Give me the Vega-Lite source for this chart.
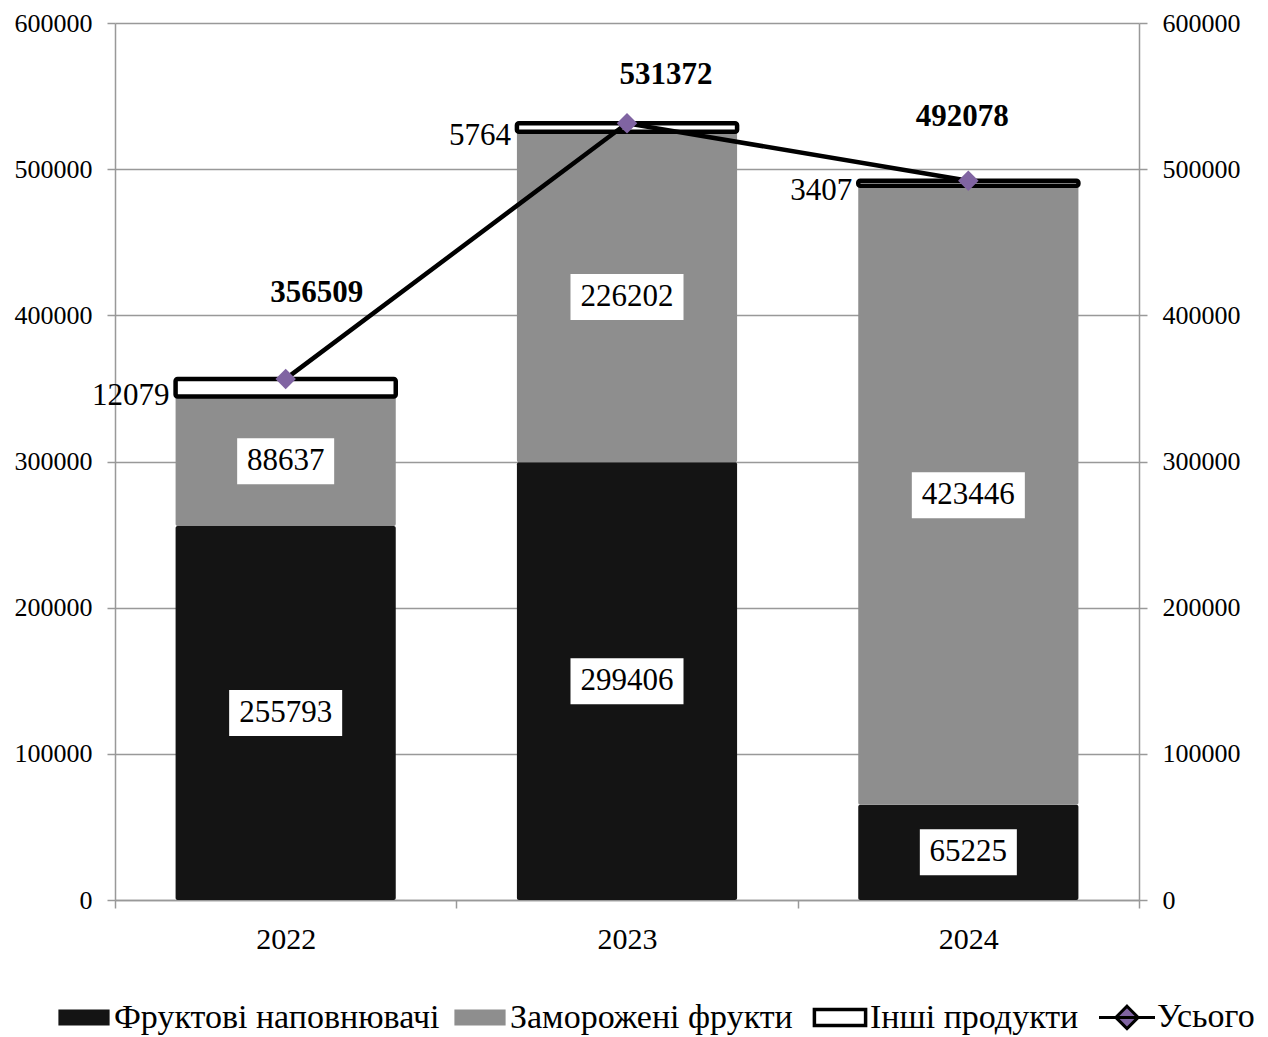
{
  "$schema": "https://vega.github.io/schema/vega-lite/v6.json",
  "width": 1024,
  "height": 877,
  "autosize": "none",
  "padding": {"left": 115, "top": 23, "right": 129, "bottom": 137},
  "background": "white",
  "config": {
    "view": {"stroke": null},
    "axis": {"labelFont": "Liberation Serif", "labelColor": "black", "domainColor": "#999999", "tickColor": "#999999", "gridColor": "#999999", "title": null, "domainWidth": 1.5, "tickWidth": 1.5, "gridWidth": 1.5},
    "legend": {"labelFont": "Liberation Serif", "labelColor": "black", "labelFontSize": 34, "labelLimit": 0, "title": null}
  },
  "datasets": {
    "cats": [
      {"year": "2022", "category": "Фруктові наповнювачі", "value": 255793, "order": 1},
      {"year": "2022", "category": "Заморожені фрукти", "value": 88637, "order": 2},
      {"year": "2022", "category": "Інші продукти", "value": 12079, "order": 3},
      {"year": "2023", "category": "Фруктові наповнювачі", "value": 299406, "order": 1},
      {"year": "2023", "category": "Заморожені фрукти", "value": 226202, "order": 2},
      {"year": "2023", "category": "Інші продукти", "value": 5764, "order": 3},
      {"year": "2024", "category": "Фруктові наповнювачі", "value": 65225, "order": 1},
      {"year": "2024", "category": "Заморожені фрукти", "value": 423446, "order": 2},
      {"year": "2024", "category": "Інші продукти", "value": 3407, "order": 3}
    ],
    "totals": [
      {"year": "2022", "total": 356509},
      {"year": "2023", "total": 531372},
      {"year": "2024", "total": 492078}
    ]
  },
  "layer": [
    {
      "data": {"name": "cats"},
      "transform": [
        {"stack": "value", "groupby": ["year"], "sort": [{"field": "order", "order": "ascending"}], "as": ["y0", "y1"]},
        {"calculate": "(datum.y0 + datum.y1) / 2", "as": "mid"}
      ],
      "layer": [
        {
          "mark": {"type": "bar", "stroke": "black", "strokeJoin": "round", "cornerRadius": 2, "width": {"band": 0.645}},
          "encoding": {
            "x": {"field": "year", "type": "nominal", "scale": {"paddingInner": 0, "paddingOuter": 0},
              "axis": {"orient": "bottom", "labelAngle": 0, "labelFontSize": 30, "tickBand": "extent", "tickSize": 8, "labelPadding": 16, "domain": true}},
            "y": {"field": "y0", "type": "quantitative", "scale": {"domain": [0, 600000], "nice": false},
              "axis": {"orient": "left", "values": [0, 100000, 200000, 300000, 400000, 500000, 600000], "format": "d", "labelFontSize": 26, "tickSize": 8, "labelPadding": 15, "grid": true}},
            "y2": {"field": "y1"},
            "color": {"field": "category", "type": "nominal",
              "scale": {"domain": ["Фруктові наповнювачі", "Заморожені фрукти", "Інші продукти", "Усього"], "range": ["#141414", "#8e8e8e", "#ffffff", "#8064A2"]},
              "legend": {"orient": "none", "legendX": -48, "legendY": 977, "direction": "horizontal", "symbolSize": 1024, "labelOffset": 13, "columnPadding": 14,
                "symbolType": {"expr": "datum.value === 'Усього' ? 'M-1.75,0H1.75M0,-0.7L0.7,0L0,0.7L-0.7,0Z' : 'M-1.6,-0.5H1.6V0.5H-1.6Z'"},
                "symbolStrokeColor": "#000000",
                "symbolStrokeWidth": {"expr": "datum.value === 'Інші продукти' ? 3.5 : (datum.value === 'Усього' ? 3 : 0)"},
                "symbolOpacity": 1}},
            "strokeWidth": {"condition": {"test": "datum.category === 'Інші продукти'", "value": 4.5}, "value": 0}
          }
        },
        {
          "transform": [{"filter": "datum.category !== 'Інші продукти'"}],
          "mark": {"type": "point", "filled": true, "fill": "white", "opacity": 1, "strokeWidth": 0, "size": 2116},
          "encoding": {
            "x": {"field": "year", "type": "nominal"},
            "y": {"field": "mid", "type": "quantitative"},
            "shape": {"condition": {"test": "datum.value >= 100000", "value": "M-2.457,-1H2.457V1H-2.457Z"}, "value": "M-2.109,-1H2.109V1H-2.109Z"}
          }
        },
        {
          "transform": [{"filter": "datum.category !== 'Інші продукти'"}],
          "mark": {"type": "text", "font": "Liberation Serif", "fontSize": 31, "color": "black", "baseline": "middle", "align": "center"},
          "encoding": {
            "x": {"field": "year", "type": "nominal"},
            "y": {"field": "mid", "type": "quantitative"},
            "text": {"field": "value", "type": "quantitative", "format": "d"}
          }
        },
        {
          "transform": [{"filter": "datum.category === 'Інші продукти'"}],
          "mark": {"type": "text", "font": "Liberation Serif", "fontSize": 31, "color": "black", "baseline": "middle", "align": "right", "dx": -6, "dy": 8},
          "encoding": {
            "x": {"field": "year", "type": "nominal", "bandPosition": 0.1775},
            "y": {"field": "mid", "type": "quantitative"},
            "text": {"field": "value", "type": "quantitative", "format": "d"}
          }
        }
      ]
    },
    {
      "data": {"name": "totals"},
      "encoding": {
        "x": {"field": "year", "type": "nominal"},
        "y": {"field": "total", "type": "quantitative", "scale": {"domain": [0, 600000], "nice": false},
          "axis": {"orient": "right", "values": [0, 100000, 200000, 300000, 400000, 500000, 600000], "format": "d", "labelFontSize": 26, "tickSize": 8, "labelPadding": 15, "grid": false}}
      },
      "layer": [
        {"mark": {"type": "line", "color": "black", "strokeWidth": 4.5}},
        {"mark": {"type": "point", "shape": "diamond", "filled": true, "fill": "#8064A2", "opacity": 1, "size": 420, "strokeWidth": 0}},
        {"transform": [{"filter": "datum.year === '2022'"}],
          "mark": {"type": "text", "font": "Liberation Serif", "fontWeight": "bold", "fontSize": 31, "color": "black", "baseline": "middle", "dx": 31, "dy": -86},
          "encoding": {"text": {"field": "total", "type": "quantitative", "format": "d"}}},
        {"transform": [{"filter": "datum.year === '2023'"}],
          "mark": {"type": "text", "font": "Liberation Serif", "fontWeight": "bold", "fontSize": 31, "color": "black", "baseline": "middle", "dx": 39, "dy": -48},
          "encoding": {"text": {"field": "total", "type": "quantitative", "format": "d"}}},
        {"transform": [{"filter": "datum.year === '2024'"}],
          "mark": {"type": "text", "font": "Liberation Serif", "fontWeight": "bold", "fontSize": 31, "color": "black", "baseline": "middle", "dx": -6, "dy": -64},
          "encoding": {"text": {"field": "total", "type": "quantitative", "format": "d"}}}
      ]
    }
  ],
  "resolve": {"scale": {"y": "independent"}}
}
